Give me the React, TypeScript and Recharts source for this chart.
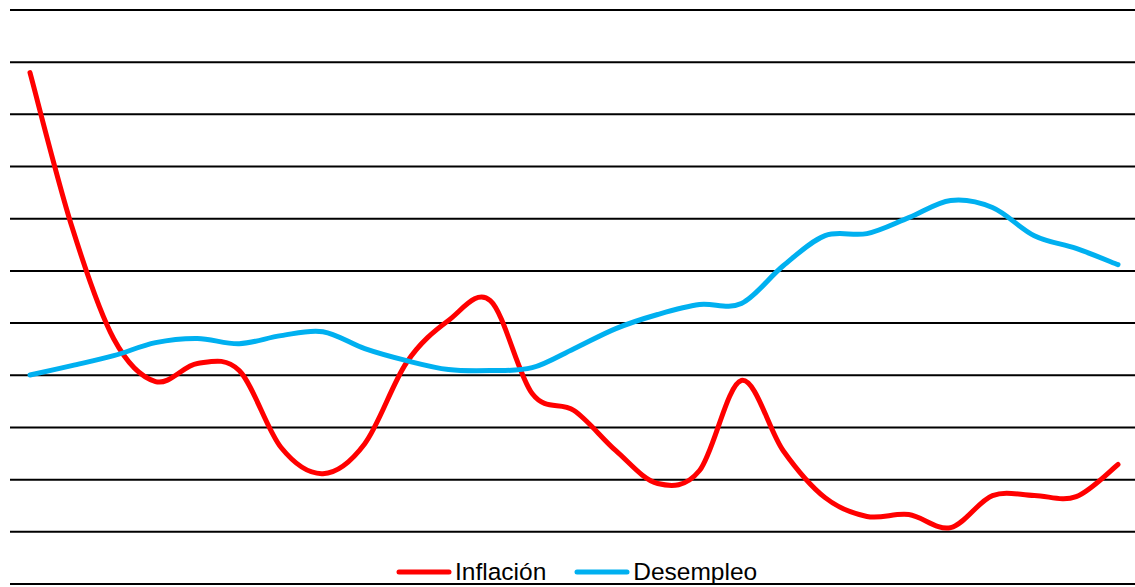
import React from 'react';
import {
  LineChart,
  Line,
  XAxis,
  YAxis,
  CartesianGrid,
  Legend,
} from 'recharts';

const years = [
  '1990', '1991', '1992', '1993', '1994', '1995', '1996', '1997', '1998',
  '1999', '2000', '2001', '2002', '2003', '2004', '2005', '2006', '2007',
  '2008', '2009', '2010', '2011', '2012', '2013', '2014', '2015', '2016',
];

const inflacion = [
  19.6, 13.7, 9.4, 7.76, 8.45, 8.18, 5.23, 4.23, 5.38,
  8.49, 10.1, 10.86, 7.3, 6.65, 5.11, 3.85, 4.35, 7.8,
  5.11, 3.31, 2.59, 2.66, 2.16, 3.39, 3.39, 3.35, 4.58,
];

const desempleo = [
  8.01, 8.37, 8.75, 9.25, 9.41, 9.21, 9.52, 9.67, 9.02,
  8.56, 8.22, 8.18, 8.29, 9.02, 9.79, 10.33, 10.71, 10.75,
  12.2, 13.35, 13.43, 14.04, 14.7, 14.43, 13.35, 12.86, 12.24,
];

const yTicks = [0, 2, 4, 6, 8, 10, 12, 14, 16, 18, 20, 22];

const data = years.map((year, i) => ({
  year,
  inflacion: inflacion[i],
  desempleo: desempleo[i],
}));

// Excel-style smoothed line (uniform Catmull-Rom as cubic beziers)
const excelSmooth = (context: any) => {
  let pts: [number, number][] = [];
  return {
    areaStart() {},
    areaEnd() {},
    lineStart() {
      pts = [];
    },
    point(x: number, y: number) {
      pts.push([+x, +y]);
    },
    lineEnd() {
      if (!pts.length) return;
      context.moveTo(pts[0][0], pts[0][1]);
      for (let i = 0; i < pts.length - 1; i++) {
        const p0 = pts[i - 1] || pts[i];
        const p1 = pts[i];
        const p2 = pts[i + 1];
        const p3 = pts[i + 2] || p2;
        context.bezierCurveTo(
          p1[0] + (p2[0] - p0[0]) / 6,
          p1[1] + (p2[1] - p0[1]) / 6,
          p2[0] - (p3[0] - p1[0]) / 6,
          p2[1] - (p3[1] - p1[1]) / 6,
          p2[0],
          p2[1]
        );
      }
    },
  };
};

const legendItems = [
  { label: 'Inflación', color: '#FF0000' },
  { label: 'Desempleo', color: '#00B0F0' },
];

const CustomLegend = () => (
  <div
    style={{
      display: 'flex',
      alignItems: 'center',
      fontFamily: '"Liberation Sans", Arial, sans-serif',
      fontSize: 24.5,
      lineHeight: '28px',
      color: '#000',
    }}
  >
    {legendItems.map((item, i) => (
      <div
        key={item.label}
        style={{ display: 'flex', alignItems: 'center', marginRight: i === 0 ? 28 : 0 }}
      >
        <svg width={56} height={10} style={{ marginRight: 3 }}>
          <line x1={3} y1={5} x2={53} y2={5} stroke={item.color} strokeWidth={5} strokeLinecap="round" />
        </svg>
        <span>{item.label}</span>
      </div>
    ))}
  </div>
);

const App: React.FC = () => {
  return (
    <div style={{ position: 'absolute', left: 0, top: 0, width: 1135, height: 587, background: '#fff' }}>
      <LineChart
        width={1135}
        height={587}
        data={data}
        margin={{ top: 10, right: 0, left: 10, bottom: 3 }}
      >
        <CartesianGrid vertical={false} stroke="#000" strokeWidth={2} />
        <XAxis dataKey="year" hide padding={{ left: 20, right: 17 }} />
        <YAxis hide domain={[0, 22]} ticks={yTicks} />
        <Legend
          layout="horizontal"
          verticalAlign="middle"
          content={<CustomLegend />}
          wrapperStyle={{ top: 558, left: 396, width: 420, height: 28 }}
        />
        <Line
          dataKey="inflacion"
          name="Inflación"
          type={excelSmooth as any}
          stroke="#FF0000"
          strokeWidth={5}
          strokeLinecap="round"
          dot={false}
          isAnimationActive={false}
        />
        <Line
          dataKey="desempleo"
          name="Desempleo"
          type={excelSmooth as any}
          stroke="#00B0F0"
          strokeWidth={5}
          strokeLinecap="round"
          dot={false}
          isAnimationActive={false}
        />
      </LineChart>
    </div>
  );
};

export default App;
